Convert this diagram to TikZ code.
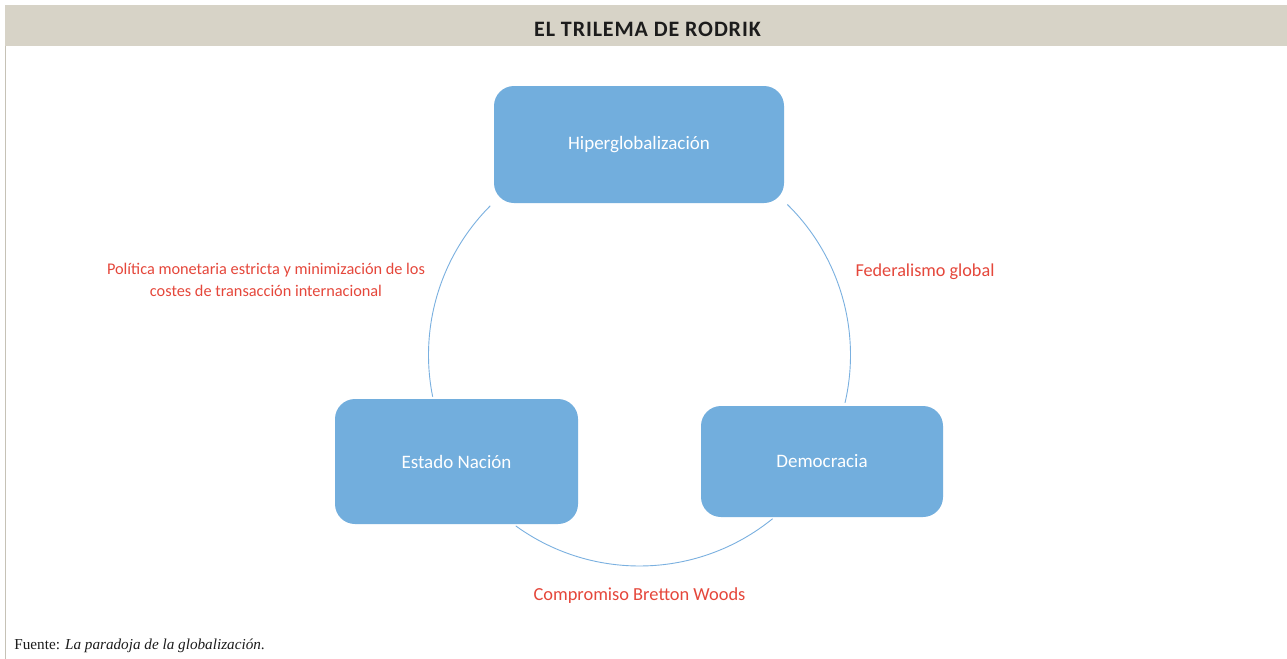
\documentclass[tikz,border=0pt]{standalone}
\usepackage{fontspec}
\setmainfont{Carlito}
\newfontfamily\footfont{Liberation Serif}
\newfontfamily\headfont[LetterSpace=4]{Carlito}
\definecolor{boxblue}{HTML}{72AEDD}
\definecolor{arcblue}{HTML}{7AB0E0}
\definecolor{labred}{HTML}{E5473B}
\definecolor{headbg}{HTML}{D7D3C7}
\definecolor{bordergray}{HTML}{C6C2B6}
\definecolor{headtxt}{HTML}{1C1C1C}
\tikzset{
  tribox/.style={draw=none, fill=boxblue, rounded corners=10pt, text=white, font=\fontsize{9.5}{11}\selectfont, inner sep=0pt},
  linkarc/.style={draw=arcblue, line width=0.45pt},
  linklabel/.style={text=labred, align=center, inner sep=0pt},
}
\begin{document}
\begin{tikzpicture}[x=0.5pt,y=0.5pt]
\useasboundingbox (0,0) rectangle (1287,-659);
\fill[white] (0,0) rectangle (1287,-659);
% header
\fill[headbg] (5,-5) rectangle (1287,-46);
\node[text=headtxt, font=\headfont\bfseries\fontsize{11}{12}\selectfont, inner sep=0pt] (title) at (647.5,-29) {EL TRILEMA DE RODRIK};
\draw[bordergray, line width=0.6pt] (5.5,-46) -- (5.5,-659);
% boxes
\node[tribox, minimum width=145pt, minimum height=58.5pt] (hiper) at (639,-144.5) {Hiperglobalización};
\node[tribox, minimum width=121.5pt, minimum height=62.5pt] (estado) at (456.5,-461.5) {Estado Nación};
\node[tribox, minimum width=121pt, minimum height=55.5pt] (demo) at (822,-461.5) {Democracia};
% circle arcs
\coordinate (cc) at (639.5,-355);
\draw[linkarc] (cc) ++(135:211) arc[start angle=135, end angle=191.4, radius=105.5pt];
\draw[linkarc] (cc) ++(45.5:211) arc[start angle=45.5, end angle=-13.1, radius=105.5pt];
\draw[linkarc] (cc) ++(234.1:211) arc[start angle=234.1, end angle=309.1, radius=105.5pt];
% labels
\node[linklabel, font=\fontsize{8.15}{11}\selectfont] (lpol) at (266,-280) {Política monetaria estricta y minimización de los\\costes de transacción internacional};
\node[linklabel, font=\fontsize{9.1}{11}\selectfont] (lfed) at (925,-272) {Federalismo global};
\node[linklabel, font=\fontsize{9.2}{11}\selectfont] (lbw) at (639.5,-596) {Compromiso Bretton Woods};
% footer
\node[anchor=base west, inner sep=0pt, text=headtxt, font=\footfont\fontsize{7.6}{9}\selectfont] (foot) at (14,-649) {Fuente: \textit{La paradoja de la globalización}.};
\end{tikzpicture}
\end{document}
